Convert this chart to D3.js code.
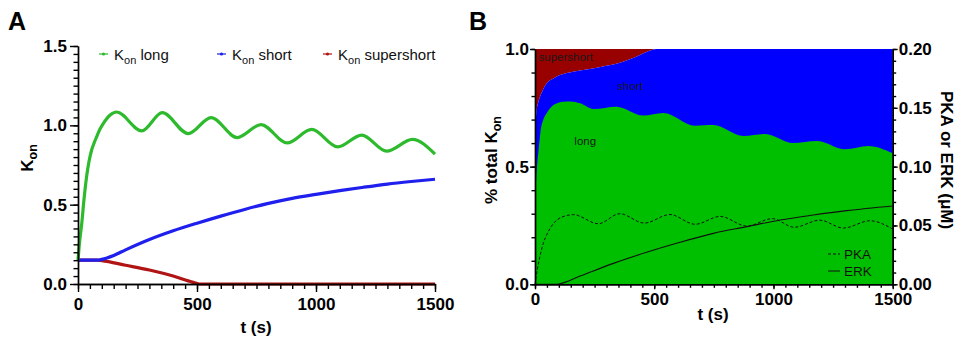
<!DOCTYPE html>
<html>
<head>
<meta charset="utf-8">
<script src="https://cdn.jsdelivr.net/npm/d3@7"></script>
<style>
  body { margin: 0; background: #fff; }
  svg { display: block; font-family: "Liberation Sans", Arial, sans-serif; }
  .tick text { font-size: 17px; font-weight: bold; fill: #000; }
</style>
</head>
<body>
<svg id="chart" width="959" height="340"></svg>
<script>
// ---- panel A : Kon vs time ----
const tLong  = [0, 5, 10, 15, 25, 36, 46, 57, 68, 78, 92, 106, 134, 162, 268, 354, 463, 559, 669, 769, 879, 982, 1091, 1192, 1297, 1405, 1500];
const kLong  = [0.15, 0.24, 0.31, 0.37, 0.53, 0.675, 0.77, 0.843, 0.89, 0.927, 0.975, 1.011, 1.064, 1.084, 0.965, 1.08, 0.948, 1.049, 0.923, 1.005, 0.889, 0.974, 0.864, 0.938, 0.837, 0.911, 0.818];
const tShort = [0, 80, 100, 150, 200, 300, 400, 500, 600, 700, 800, 900, 1000, 1100, 1200, 1300, 1400, 1500];
const kShort = [0.15, 0.15, 0.155, 0.18, 0.215, 0.28, 0.335, 0.383, 0.428, 0.47, 0.508, 0.54, 0.565, 0.588, 0.61, 0.63, 0.646, 0.66];
const tSuper = [0, 80, 100, 200, 300, 400, 480, 510, 600, 800, 1000, 1200, 1500];
const kSuper = [0.15, 0.15, 0.147, 0.118, 0.088, 0.05, 0.012, 0, 0, 0, 0, 0, 0];

// ---- panel B : fraction of total Kon, PKA / ERK ----
const tFracLong = [0, 5, 10, 15, 24, 35, 49, 77, 119, 150, 189, 245, 342, 454, 538, 671, 748, 874, 965, 1083, 1181, 1300, 1398, 1500];
const fracLong  = [0.34, 0.45, 0.52, 0.57, 0.656, 0.70, 0.727, 0.762, 0.776, 0.777, 0.769, 0.745, 0.755, 0.717, 0.728, 0.674, 0.677, 0.63, 0.639, 0.60, 0.609, 0.574, 0.588, 0.557];
const tFracLS   = [0, 4, 7, 14, 21, 35, 49, 77, 105, 160, 217, 280, 356, 400, 440, 475, 510, 800, 1500];
const fracLS    = [0.667, 0.71, 0.74, 0.775, 0.797, 0.83, 0.854, 0.875, 0.889, 0.903, 0.913, 0.925, 0.942, 0.957, 0.975, 0.99, 1, 1, 1];
const tPKA = [0, 10, 21, 35, 49, 63, 91, 125, 161, 265, 356, 458, 566, 671, 776, 888, 995, 1087, 1195, 1293, 1405, 1500];
const pka  = [0, 0.013, 0.024, 0.035, 0.042, 0.0475, 0.0545, 0.058, 0.0592, 0.0515, 0.06, 0.052, 0.0593, 0.051, 0.0577, 0.0495, 0.0558, 0.0485, 0.0545, 0.0478, 0.054, 0.047];
const tERK = [0, 80, 100, 189, 329, 468, 608, 748, 888, 1028, 1167, 1307, 1500];
const erk  = [0, 0, 0.0003, 0.007, 0.0178, 0.0272, 0.0357, 0.0433, 0.049, 0.0547, 0.0589, 0.0626, 0.0666];

const xTicks = [0, 500, 1000, 1500];
const legendA = [
  { name: 'long', color: '#2dbb2d' },
  { name: 'short', color: '#1f1fee' },
  { name: 'supershort', color: '#b01414' }
];
const areaLabels = [
  { text: 'supershort', t: 15, v: 0.948 },
  { text: 'short', t: 345, v: 0.825 },
  { text: 'long', t: 165, v: 0.59 }
];

const zip = (ts, vs) => ts.map((t, i) => ({ t, v: vs[i] }));
const svg = d3.select('#chart');
const range = (a, b, s) => d3.range(a, b + s / 2, s);

function styleAxis(g) {
  g.selectAll('path, line').attr('stroke', '#000').attr('stroke-width', 1.4);
}

// ================= Panel A =================
const xA = d3.scaleLinear().domain([0, 1500]).range([78, 435]);
const yA = d3.scaleLinear().domain([0, 1.5]).range([284, 46]);
const gA = svg.append('g');

const lineA = d3.line().x(d => xA(d.t)).y(d => yA(d.v)).curve(d3.curveMonotoneX);
const seriesA = [zip(tLong, kLong), zip(tShort, kShort), zip(tSuper, kSuper)];
// draw supershort first so it sits under the others
[2, 1, 0].forEach(i => {
  gA.append('path').datum(seriesA[i])
    .attr('d', lineA).attr('fill', 'none')
    .attr('stroke', legendA[i].color).attr('stroke-width', 3.2);
});

gA.append('g').attr('transform', 'translate(78,0)')
  .call(d3.axisLeft(yA).tickValues(range(0, 1.5, 0.05)).tickSize(4.5).tickFormat('').tickSizeOuter(0))
  .call(styleAxis);
gA.append('g').attr('transform', 'translate(78,0)')
  .call(d3.axisLeft(yA).tickValues([0, 0.5, 1, 1.5]).tickSize(8).tickPadding(3).tickFormat(d3.format('.1f')).tickSizeOuter(0))
  .call(styleAxis);
gA.append('g').attr('transform', 'translate(0,284)')
  .call(d3.axisBottom(xA).tickValues(range(0, 1500, 50)).tickSize(5).tickFormat('').tickSizeOuter(0))
  .call(styleAxis);
gA.append('g').attr('transform', 'translate(0,284)')
  .call(d3.axisBottom(xA).tickValues(xTicks).tickSize(8).tickPadding(6).tickFormat(d3.format('d')).tickSizeOuter(0))
  .call(styleAxis);

// legend A
const legX = [99, 217, 323];
legendA.forEach((d, i) => {
  const g = gA.append('g').attr('transform', `translate(${legX[i]},54)`);
  g.append('line').attr('x1', 0).attr('x2', 9).attr('stroke', d.color).attr('stroke-width', 1.2);
  g.append('circle').attr('cx', 4.5).attr('r', 1.6).attr('fill', d.color);
  const t = g.append('text').attr('x', 15).attr('y', 6).attr('font-size', 15).attr('fill', '#111');
  t.append('tspan').text('K');
  t.append('tspan').attr('font-size', 11).attr('dy', 3.5).text('on');
  t.append('tspan').attr('dy', -3.5).text(' ' + d.name);
});

// labels A
svg.append('text').attr('x', 8).attr('y', 30).attr('font-size', 25).attr('font-weight', 'bold').text('A');
const ylabA = svg.append('text').attr('transform', 'translate(33,158) rotate(-90)')
  .attr('text-anchor', 'middle').attr('font-size', 17).attr('font-weight', 'bold');
ylabA.append('tspan').text('K');
ylabA.append('tspan').attr('font-size', 12.5).attr('dy', 4).text('on');
svg.append('text').attr('x', 256).attr('y', 333).attr('text-anchor', 'middle')
  .attr('font-size', 17).attr('font-weight', 'bold').text('t (s)');

// ================= Panel B =================
const xB = d3.scaleLinear().domain([0, 1500]).range([535, 892.7]);
const yB = d3.scaleLinear().domain([0, 1]).range([284.3, 49]);
const yB2 = d3.scaleLinear().domain([0, 0.2]).range([284.3, 49]);
const gB = svg.append('g');

const lsData = zip(tFracLS, fracLS);
const longData = zip(tFracLong, fracLong);
gB.append('path').datum(lsData)
  .attr('d', d3.area().x(d => xB(d.t)).y0(yB(1)).y1(d => yB(d.v)).curve(d3.curveMonotoneX))
  .attr('fill', '#990000');
gB.append('path').datum(lsData)
  .attr('d', d3.area().x(d => xB(d.t)).y0(yB(0)).y1(d => yB(d.v)).curve(d3.curveMonotoneX))
  .attr('fill', '#0000ff');
gB.append('path').datum(longData)
  .attr('d', d3.area().x(d => xB(d.t)).y0(yB(0)).y1(d => yB(d.v)).curve(d3.curveMonotoneX))
  .attr('fill', '#00bf00');

const lineB = d3.line().x(d => xB(d.t)).y(d => yB2(d.v)).curve(d3.curveMonotoneX);
gB.append('path').datum(zip(tPKA, pka)).attr('d', lineB)
  .attr('fill', 'none').attr('stroke', '#111').attr('stroke-width', 1).attr('stroke-dasharray', '3,2');
gB.append('path').datum(zip(tERK, erk)).attr('d', lineB)
  .attr('fill', 'none').attr('stroke', '#111').attr('stroke-width', 1.1);

areaLabels.forEach(d => {
  gB.append('text').attr('x', xB(d.t)).attr('y', yB(d.v))
    .attr('font-size', 11.5).attr('fill', '#1a1a1a').text(d.text);
});

// legend B
[['PKA', '3,2', 254], ['ERK', null, 271]].forEach(([name, dash, y]) => {
  gB.append('line').attr('x1', 828).attr('x2', 840).attr('y1', y).attr('y2', y)
    .attr('stroke', '#111').attr('stroke-width', 1).attr('stroke-dasharray', dash);
  gB.append('text').attr('x', 844).attr('y', y + 4.5).attr('font-size', 13.5).attr('fill', '#111').text(name);
});

// axes B
gB.append('g').attr('transform', 'translate(535,0)')
  .call(d3.axisLeft(yB).tickValues(range(0, 1, 0.1)).tickSize(3.5).tickFormat('').tickSizeOuter(0))
  .call(styleAxis);
gB.append('g').attr('transform', 'translate(535,0)')
  .call(d3.axisLeft(yB).tickValues([0, 0.5, 1]).tickSize(5).tickPadding(1).tickFormat(d3.format('.1f')).tickSizeOuter(0))
  .call(styleAxis);
gB.append('g').attr('transform', 'translate(892.7,0)')
  .call(d3.axisRight(yB2).tickValues(range(0, 0.2, 0.01)).tickSize(3.5).tickFormat('').tickSizeOuter(0))
  .call(styleAxis);
gB.append('g').attr('transform', 'translate(892.7,0)')
  .call(d3.axisRight(yB2).tickValues(range(0, 0.2, 0.05)).tickSize(5).tickPadding(1).tickFormat(d3.format('.2f')).tickSizeOuter(0))
  .call(styleAxis);
gB.append('g').attr('transform', 'translate(0,284.3)')
  .call(d3.axisBottom(xB).tickValues(range(0, 1500, 50)).tickSize(3.5).tickFormat('').tickSizeOuter(0))
  .call(styleAxis);
gB.append('g').attr('transform', 'translate(0,284.3)')
  .call(d3.axisBottom(xB).tickValues(xTicks).tickSize(5).tickPadding(4).tickFormat(d3.format('d')).tickSizeOuter(0))
  .call(styleAxis);

// labels B
svg.append('text').attr('x', 469).attr('y', 30).attr('font-size', 25).attr('font-weight', 'bold').text('B');
const ylabB = svg.append('text').attr('transform', 'translate(497,160) rotate(-90)')
  .attr('text-anchor', 'middle').attr('font-size', 17).attr('font-weight', 'bold');
ylabB.append('tspan').text('% total K');
ylabB.append('tspan').attr('font-size', 12.5).attr('dy', 4).text('on');
svg.append('text').attr('transform', 'translate(941,160) rotate(90)')
  .attr('text-anchor', 'middle').attr('font-size', 17).attr('font-weight', 'bold').text('PKA or ERK (μM)');
svg.append('text').attr('x', 713).attr('y', 320).attr('text-anchor', 'middle')
  .attr('font-size', 17).attr('font-weight', 'bold').text('t (s)');
</script>
</body>
</html>
